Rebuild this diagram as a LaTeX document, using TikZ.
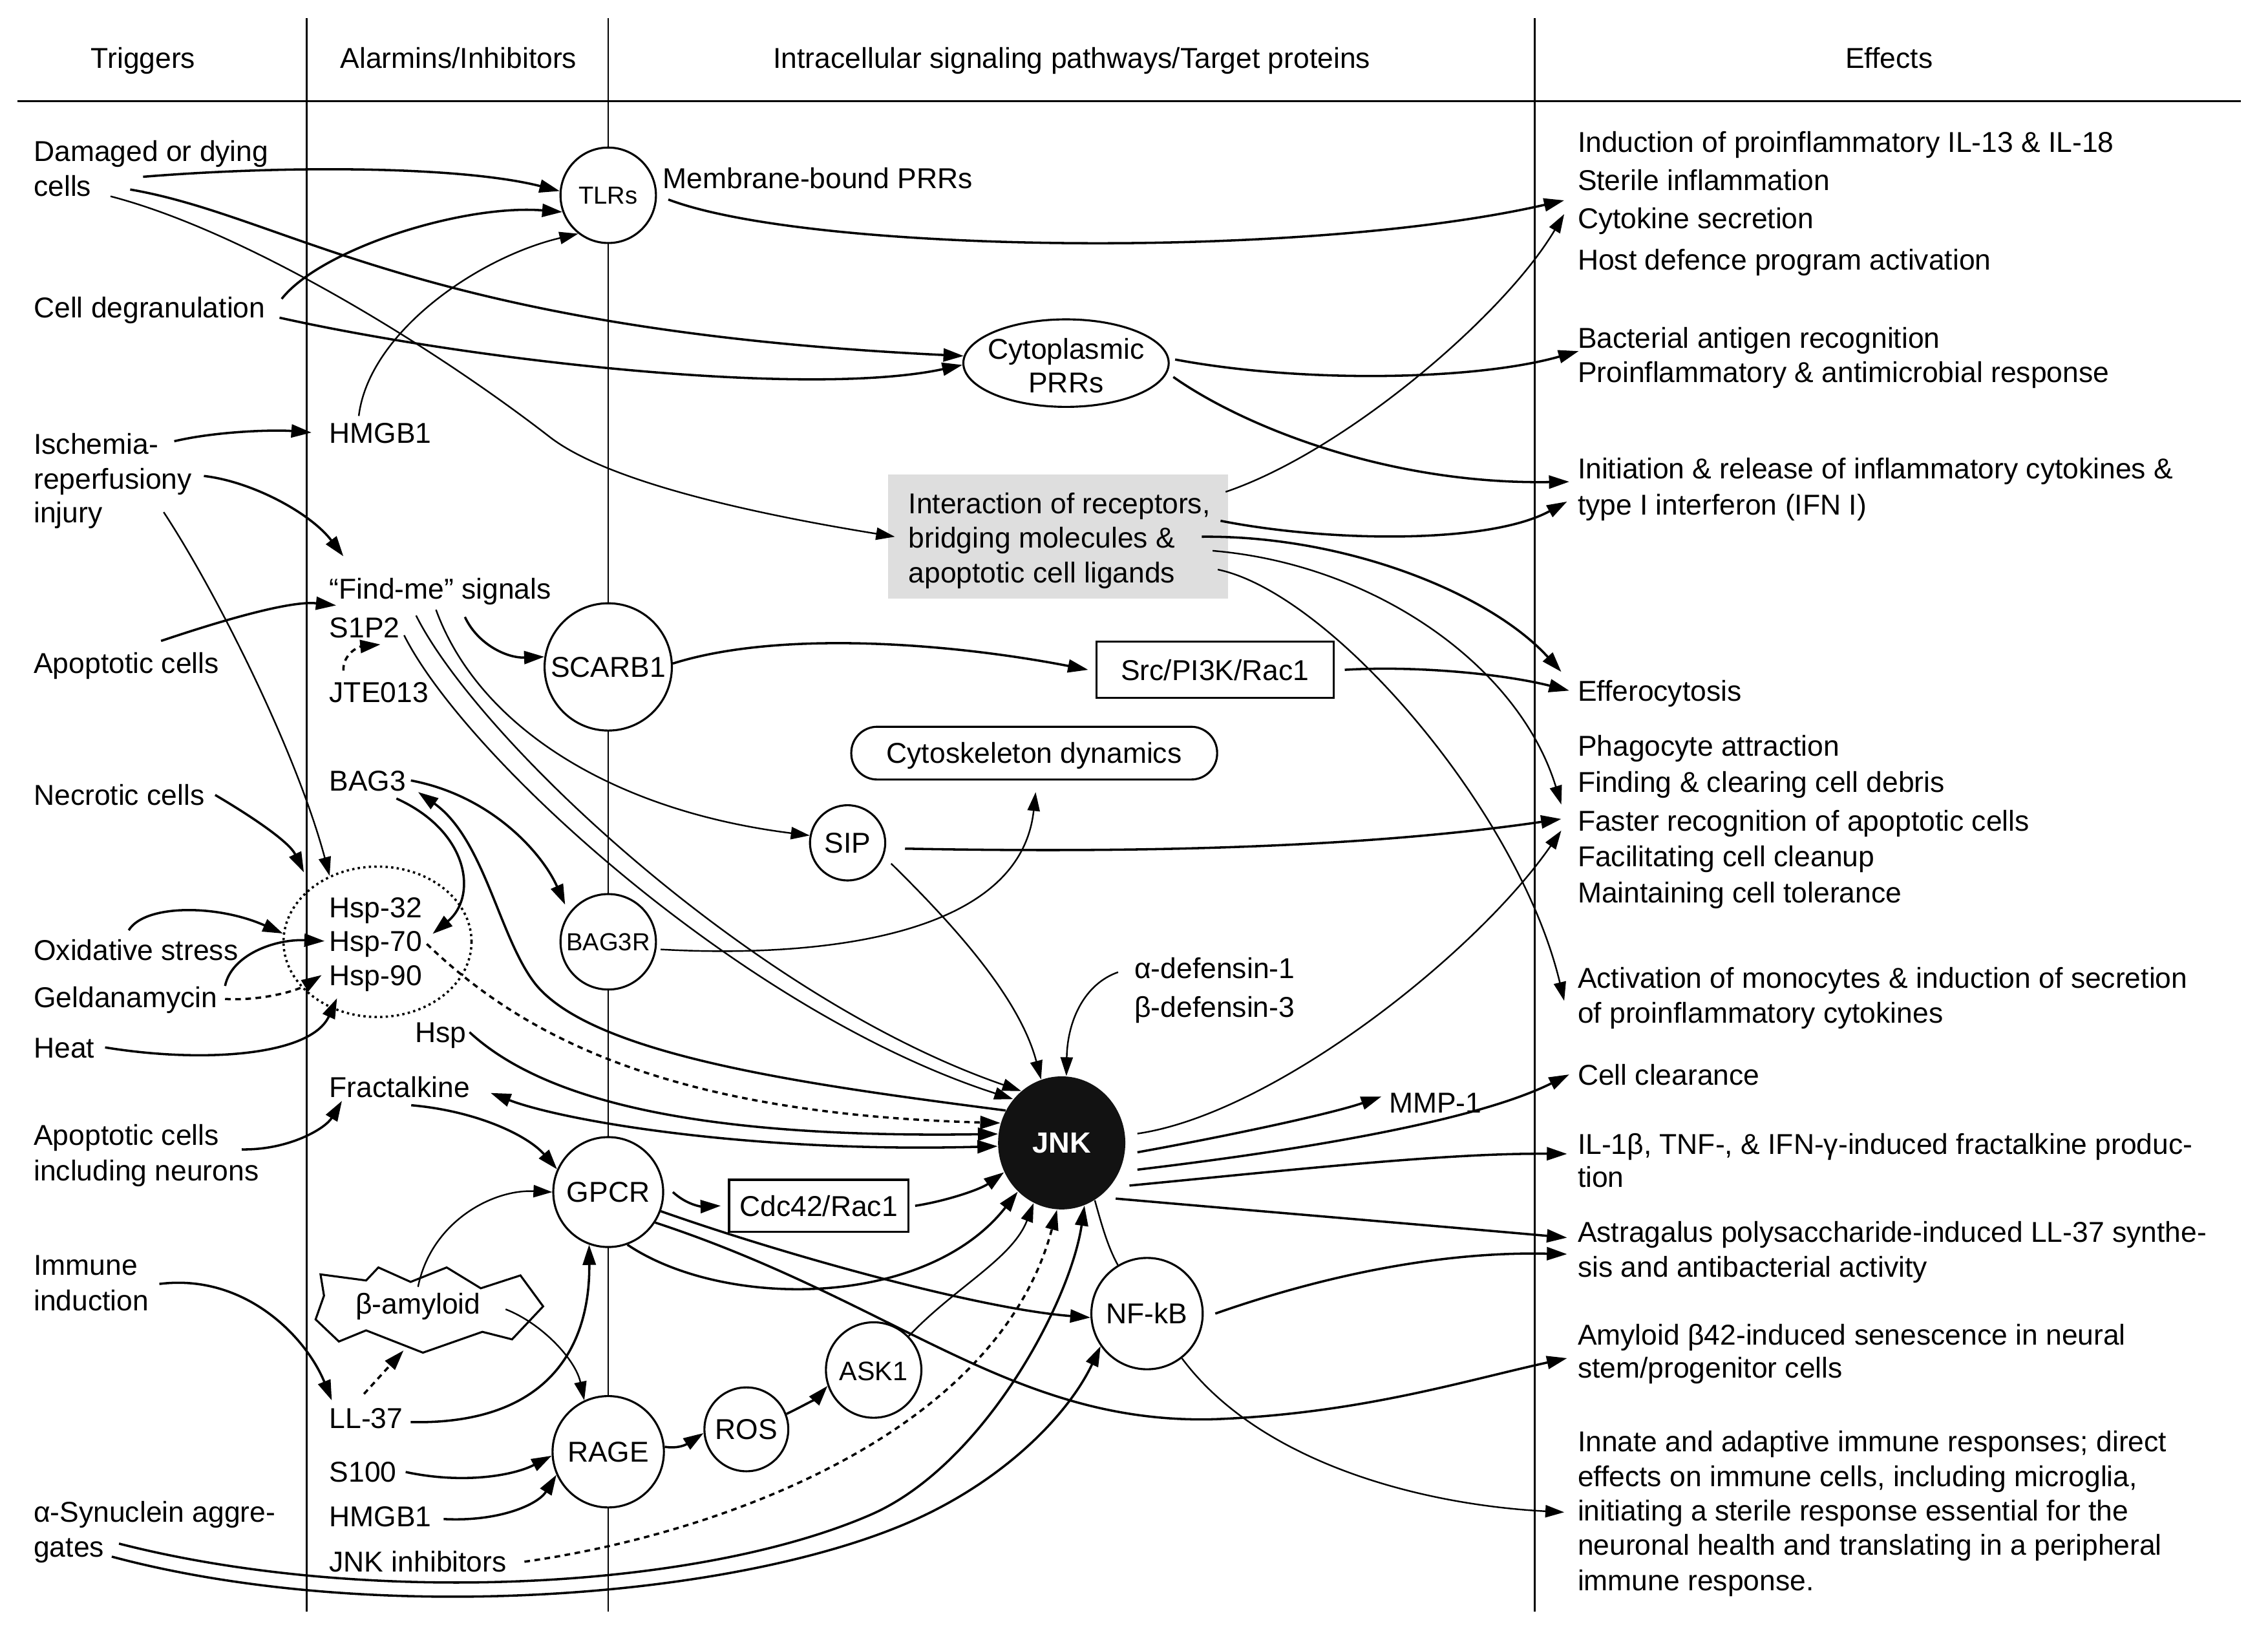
\documentclass[tikz,border=0pt]{standalone}
\usepackage{fontspec}
\setmainfont{Liberation Sans}
\usetikzlibrary{arrows.meta,calc,shapes.geometric}

\tikzset{
  lbl/.style={anchor=west,inner sep=0pt,text height=8.1pt,text depth=0pt,
    font=\fontsize{11.3}{13.6}\selectfont},
  hd/.style={lbl,anchor=center},
  ring/.style={circle,draw,line width=0.8pt,fill=white,inner sep=0pt,
    text height=8.1pt,text depth=0pt,font=\fontsize{11.3}{13.6}\selectfont},
  ringsm/.style={ring,text height=7pt,font=\fontsize{9.7}{11.6}\selectfont},
  pbox/.style={rectangle,draw,line width=0.8pt,fill=white,inner sep=0pt,
    text height=8.1pt,text depth=0pt,font=\fontsize{11.3}{13.6}\selectfont},
  arr/.style={-{Triangle[length=2.8mm,width=1.8mm]},line width=0.9pt},
  arrlt/.style={-{Triangle[length=2.6mm,width=1.7mm]},line width=0.62pt},
  arrboth/.style={{Triangle[length=2.8mm,width=1.8mm]}-{Triangle[length=2.8mm,width=1.8mm]},line width=0.9pt},
  dsh/.style={dash pattern=on 2.2pt off 1.8pt},
  lane/.style={line width=0.6pt}
}

\begin{document}
\begin{tikzpicture}[x=0.02cm,y=-0.02cm]
		%%%%% START %%%%%
		\useasboundingbox (0,0) rectangle (1568,1127.4);
		
		% columns and headings
		\draw[line width=0.7pt] (12,70) -- (1549,70);
		\draw[lane] (212,12.5) -- (212,1114);
		\draw[lane] (420.5,12.5) -- (420.5,1114);
		\draw[lane] (1061,12.5) -- (1061,1114);
		
		\node[hd] (hTrig) at (99,40) {Triggers};
		\node[hd] (hAlar) at (317,40) {Alarmins/Inhibitors};
		\node[hd] (hPath) at (741,40) {Intracellular signaling pathways/Target proteins};
		\node[hd] (hEff) at (1306,40) {Effects};
		
		% triggers
		\node[lbl] (dmg1) at (23,104.6) {Damaged or dying};
		\node[lbl] (dmg2) at (23,128.7) {cells};
		\node[lbl] (degr) at (23,212.6) {Cell degranulation};
		\node[lbl] (isch1) at (23,307) {Ischemia-};
		\node[lbl] (isch2) at (23,331) {reperfusiony};
		\node[lbl] (isch3) at (23,354) {injury};
		\node[lbl] (apop) at (23,458.5) {Apoptotic cells};
		\node[lbl] (necr) at (23,549.5) {Necrotic cells};
		\node[lbl] (oxid) at (23,656.5) {Oxidative stress};
		\node[lbl] (geld) at (23,689.5) {Geldanamycin};
		\node[lbl] (heat) at (23,724) {Heat};
		\node[lbl] (apn1) at (23,784.5) {Apoptotic cells};
		\node[lbl] (apn2) at (23,809) {including neurons};
		\node[lbl] (imm1) at (23,874.5) {Immune};
		\node[lbl] (imm2) at (23,899) {induction};
		\node[lbl] (syn1) at (23,1045) {α-Synuclein aggre-};
		\node[lbl] (syn2) at (23,1069) {gates};
		
		% alarmins / inhibitors
		\node[lbl] (hmgA) at (227.4,299) {HMGB1};
		\node[lbl] (find) at (227.4,407) {“Find-me” signals};
		\node[lbl] (s1p2) at (227.4,433.5) {S1P2};
		\node[lbl] (jte) at (227.4,478.5) {JTE013};
		\node[lbl] (bag) at (227.4,539.5) {BAG3};
		\node[ellipse,draw,line width=0.9pt,dash pattern=on 0.9pt off 1.3pt,
		  minimum width=2.6cm,minimum height=2.08cm,inner sep=0pt] (hspring) at (261,651) {};
		\node[lbl] (hsp32) at (227.4,627) {Hsp-32};
		\node[lbl] (hsp70) at (227.4,650.5) {Hsp-70};
		\node[lbl] (hsp90) at (227.4,674) {Hsp-90};
		\node[lbl] (hsp) at (286.6,713.5) {Hsp};
		\node[lbl] (fkn) at (227.4,751.5) {Fractalkine};
		\draw[line width=0.8pt] (221.6,880.9) -- (253.1,885.1) -- (261.6,876.1) -- (283.9,886.1)
		  -- (308.8,876.1) -- (332.4,890.5) -- (359.8,881.6) -- (375.5,903) -- (354,925.8)
		  -- (333.5,920.6) -- (292.4,935) -- (253.1,919.6) -- (234.3,927.3) -- (218.2,912)
		  -- (224,895.6) -- cycle;
		\node[hd] (amy) at (289,901) {β-amyloid};
		\node[lbl] (ll) at (227.4,980) {LL-37};
		\node[lbl] (s100) at (227.4,1017.5) {S100};
		\node[lbl] (hmgB) at (227.4,1048) {HMGB1};
		\node[lbl] (jinh) at (227.4,1079.5) {JNK inhibitors};
		
		% pathways / target proteins
		\node[ringsm,minimum size=1.32cm] (tlr) at (420.5,135) {TLRs};
		\node[lbl] (memb) at (458,123) {Membrane-bound PRRs};
		\node[ellipse,draw,line width=0.8pt,fill=white,minimum width=2.84cm,
		  minimum height=1.21cm,inner sep=0pt] (cyto) at (737,251) {};
		\node[hd] (cytoA) at (737,241) {Cytoplasmic};
		\node[hd] (cytoB) at (737,264.5) {PRRs};
		\node[rectangle,fill=black!13,minimum width=4.7cm,minimum height=1.72cm,
		  inner sep=0pt] (inter) at (731.5,371) {};
		\node[lbl] (intA) at (627.8,347.7) {Interaction of receptors,};
		\node[lbl] (intB) at (627.8,371.8) {bridging molecules \&};
		\node[lbl] (intC) at (627.8,395.9) {apoptotic cell ligands};
		\node[ring,minimum size=1.76cm] (scarb) at (420.5,461) {SCARB1};
		\node[pbox,minimum width=3.28cm,minimum height=0.78cm] (src) at (840,463) {Src/PI3K/Rac1};
		\node[pbox,rounded corners=0.36cm,minimum width=5.06cm,minimum height=0.73cm] (skel) at (715,520.6) {Cytoskeleton dynamics};
		\node[ring,minimum size=1.04cm] (sip) at (586,582.6) {SIP};
		\node[ringsm,minimum size=1.32cm] (bagr) at (420.5,651) {BAG3R};
		\node[lbl] (alpha) at (784,669) {α-defensin-1};
		\node[lbl] (beta) at (784,696) {β-defensin-3};
		\node[ellipse,fill=black!93,minimum width=1.76cm,minimum height=1.84cm,inner sep=0pt,
		  text=white,font=\fontsize{11.5}{13.8}\selectfont\bfseries] (jnk) at (734,790) {JNK};
		\node[lbl] (mmp) at (960,762) {MMP-1};
		\node[ring,minimum size=1.52cm] (gpcr) at (420.5,824) {GPCR};
		\node[pbox,minimum width=2.48cm,minimum height=0.72cm] (cdc) at (566,833.5) {Cdc42/Rac1};
		\node[ring,minimum size=1.54cm] (nfkb) at (793,908) {NF-kB};
		\node[ring,minimum size=1.32cm,font=\fontsize{10.5}{12.6}\selectfont] (ask) at (604,947) {ASK1};
		\node[ring,minimum size=1.16cm] (ros) at (516,988) {ROS};
		\node[ring,minimum size=1.54cm] (rage) at (420.5,1003.5) {RAGE};
		
		% effects
		\node[lbl] (fx01) at (1090.4,98.2) {Induction of proinflammatory IL-13 \& IL-18};
		\node[lbl] (fx02) at (1090.4,124.5) {Sterile inflammation};
		\node[lbl] (fx03) at (1090.4,151) {Cytokine secretion};
		\node[lbl] (fx04) at (1090.4,179.3) {Host defence program activation};
		\node[lbl] (fx05) at (1090.4,233.7) {Bacterial antigen recognition};
		\node[lbl] (fx06) at (1090.4,257.4) {Proinflammatory \& antimicrobial response};
		\node[lbl] (fx07) at (1090.4,323.7) {Initiation \& release of inflammatory cytokines \&};
		\node[lbl] (fx08) at (1090.4,348.7) {type I interferon (IFN I)};
		\node[lbl] (fx09) at (1090.4,477.4) {Efferocytosis};
		\node[lbl] (fx10) at (1090.4,515.3) {Phagocyte attraction};
		\node[lbl] (fx11) at (1090.4,540.3) {Finding \& clearing cell debris};
		\node[lbl] (fx12) at (1090.4,567.1) {Faster recognition of apoptotic cells};
		\node[lbl] (fx13) at (1090.4,592) {Facilitating cell cleanup};
		\node[lbl] (fx14) at (1090.4,617) {Maintaining cell tolerance};
		\node[lbl] (fx15) at (1090.4,675.9) {Activation of monocytes \& induction of secretion};
		\node[lbl] (fx16) at (1090.4,699.8) {of proinflammatory cytokines};
		\node[lbl] (fx17) at (1090.4,742.7) {Cell clearance};
		\node[lbl] (fx18) at (1090.4,790.6) {IL-1β, TNF-, \& IFN-γ-induced fractalkine produc-};
		\node[lbl] (fx19) at (1090.4,813.5) {tion};
		\node[lbl] (fx20) at (1090.4,851.5) {Astragalus polysaccharide-induced LL-37 synthe-};
		\node[lbl] (fx21) at (1090.4,875.5) {sis and antibacterial activity};
		\node[lbl] (fx22) at (1090.4,922.5) {Amyloid β42-induced senescence in neural};
		\node[lbl] (fx23) at (1090.4,945.5) {stem/progenitor cells};
		\node[lbl] (fx24) at (1090.4,996.3) {Innate and adaptive immune responses; direct};
		\node[lbl] (fx25) at (1090.4,1020.3) {effects on immune cells, including microglia,};
		\node[lbl] (fx26) at (1090.4,1044.3) {initiating a sterile response essential for the};
		\node[lbl] (fx27) at (1090.4,1067.9) {neuronal health and translating in a peripheral};
		\node[lbl] (fx28) at (1090.4,1092.2) {immune response.};
		
		% arrows from triggers
		\draw[arr] ($(dmg2.east)+(35.5,-6.5)$) .. controls (200,114) and (320,115) .. (tlr.175);
		\draw[arr] ($(dmg2.east)+(26.6,2.3)$) .. controls (200,150) and (290,228) .. (cyto.176);
		\draw[arrlt] ($(dmg2.east)+(13,7)$) .. controls (170,160) and (300,240) .. (380,302)
		  .. controls (420,333) and (520,355) .. ($(inter.west)+(5,0)$);
		\draw[arr] ($(degr.east)+(11,-6)$) .. controls (222,172) and (320,141) .. (tlr.200);
		\draw[arr] ($(degr.east)+(9.5,7)$) .. controls (330,250) and (560,275) .. (cyto.181);
		\draw[arr] ($(isch1.east)+(10.7,-2)$) .. controls (150,298) and (190,297) .. ($(hmgA.west)+(-12,0)$);
		\draw[arr] ($(isch2.east)+(8,-2)$) .. controls (175,333) and (215,355) .. ($(find.north west)+(10,-15)$);
		\draw[arrlt] ($(isch3.east)+(42,0)$) .. controls (150,410) and (205,520) .. (hspring.126);
		\draw[arr] ($(apop.north)+(24,-8)$) .. controls (150,430) and (200,415) .. ($(find.south west)+(5,4)$);
		\draw[arr] ($(necr.east)+(7,0)$) .. controls (175,565) and (200,582) .. ($(hspring.137)+(-8,-8)$);
		\draw[arr] ($(oxid.north west)+(66,-6)$) .. controls (100,625) and (150,625) .. (hspring.175);
		\draw[arr] ($(geld.east)+(5,-8)$) .. controls (160,660) and (190,649) .. ($(hsp70.west)+(-3,0)$);
		\draw[arr,dsh] ($(geld.east)+(5,1)$) .. controls (180,692) and (205,685) .. ($(hsp90.west)+(-5,0)$);
		\draw[arr] ($(heat.east)+(7,0)$) .. controls (140,735) and (215,730) .. ($(hspring.center)+(-28,39)$);
		\draw[arr] ($(apn1.east)+(15.5,10)$) .. controls (200,795) and (225,780) .. ($(fkn.south west)+(9,2)$);
		\draw[arr] ($(imm2.east)+(7,-11.5)$) .. controls (170,880) and (212,925) .. ($(ll.north west)+(2,-4.5)$);
		\draw[arr] ($(syn2.east)+(10,-2)$) .. controls (250,1110) and (480,1100) .. (602,1047)
		  .. controls (680,1013) and (740,900) .. (jnk.290);
		\draw[arr] ($(syn2.east)+(5,7)$) .. controls (260,1125) and (520,1105) .. (640,1047)
		  .. controls (700,1018) and (740,975) .. (nfkb.215);
		
		% arrows from alarmins
		\draw[arrlt] ($(hmgA.north)+(-15,-4)$) .. controls (255,230) and (330,178) .. (tlr.232);
		\draw[arr] ($(find.south)+(17,12)$) .. controls (330,445) and (350,455) .. (scarb.171);
		\draw[arrlt] ($(find.south)+(-3,7)$) .. controls (330,500) and (420,560) .. (sip.169);
		\draw[arrlt] ($(s1p2.east)+(11,-8)$) .. controls (330,510) and (520,690) .. (jnk.128);
		\draw[arrlt] ($(s1p2.east)+(2.7,5.6)$) .. controls (322,524) and (515,700) .. (jnk.138);
		\draw[arr,dsh] ($(jte.north west)+(10,-7.5)$) .. controls (237,452) and (248,447) .. ($(s1p2.south)+(11,4.5)$);
		\draw[arr] ($(bag.east)+(3,0)$) .. controls (340,550) and (375,590) .. ($(bagr.140)+(-4,-4)$);
		\draw[arr] ($(bag.south east)+(-7,5)$) .. controls (325,575) and (330,620) .. ($(hsp70.east)+(7,-5)$);
		\draw[arr] (jnk.150) .. controls (560,750) and (410,730) .. (370,680)
		  .. controls (345,648) and (335,580) .. ($(bag.east)+(8,8)$);
		\draw[arr,dsh] ($(hsp70.east)+(3,2)$) .. controls (360,715) and (460,770) .. (jnk.162);
		\draw[arr] ($(hsp.east)+(2,0)$) .. controls (375,760) and (480,787) .. (jnk.172);
		\draw[arrboth] ($(fkn.east)+(14,4)$) .. controls (390,775) and (520,797) .. (jnk.183);
		\draw[arr] ($(fkn.south)+(8,5)$) .. controls (330,768) and (365,785) .. (gpcr.156);
		\draw[arrlt] ($(amy.north)+(0,-4)$) .. controls (298,845) and (340,822) .. (gpcr.west);
		\draw[arr] ($(ll.east)+(5,3)$) .. controls (380,985) and (408,930) .. (gpcr.250);
		\draw[arr,dsh] ($(ll.north)+(-1.5,-9)$) -- ($(amy.south)+(-10,25)$);
		\draw[arrlt] ($(amy.east)+(17,4)$) .. controls (375,915) and (398,940) .. (rage.115);
		\draw[arr] ($(s100.east)+(6,0)$) .. controls (320,1026) and (355,1020) .. (rage.184);
		\draw[arr] ($(hmgB.east)+(8,2)$) .. controls (345,1052) and (372,1040) .. (rage.204);
		\draw[arr,dsh] ($(jinh.east)+(12,0)$) .. controls (500,1060) and (690,990) .. (jnk.266);
		
		% arrows between pathway nodes
		\draw[arr] (rage.5) .. controls (472,1002) and (478,996) .. (ros.185);
		\draw[arr] (ros.21) .. controls (555,972) and (565,966) .. (ask.199);
		\draw[arrlt] (ask.44) .. controls (660,890) and (700,870) .. (jnk.245);
		\draw[arr] (gpcr.-70) .. controls (500,905) and (640,905) .. (jnk.228);
		\draw[arr] (gpcr.-20) .. controls (550,870) and (680,905) .. (nfkb.184);
		\draw[arr] ($(gpcr.east)+(6,0)$) .. controls (475,833) and (485,834) .. ($(cdc.west)+(-5,0)$);
		\draw[arr] ($(cdc.east)+(4,0)$) .. controls (655,830) and (678,822) .. (jnk.207);
		\draw[line width=0.62pt] (jnk.300) .. controls (762,848) and (766,862) .. (nfkb.121);
		\draw[arrlt] ($(sip.-30)+(7,1)$) .. controls (660,640) and (705,690) .. (jnk.108);
		\draw[arrlt] ($(alpha.west)+(-11,3)$) .. controls (750,680) and (738,705) .. (jnk.86);
		\draw[arrlt] ($(bagr.-9)+(3,0)$) .. controls (560,662) and (705,650) .. ($(skel.south)+(1,8)$);
		\draw[arr] (scarb.3) .. controls (540,435) and (660,445) .. ($(src.west)+(-5,0)$);
		\draw[arr] ($(jnk.east)+(8,6.5)$) .. controls (850,785) and (920,770) .. ($(mmp.west)+(-5,-4)$);
		
		% arrows to effects
		\draw[arr] ($(tlr.-5)+(8,0)$) .. controls (560,175) and (900,180) .. ($(fx03.west)+(-9,-12.5)$);
		\draw[arr] ($(cyto.2)+(4,0)$) .. controls (900,265) and (1020,263) .. ($(fx05.west)+(1,9)$);
		\draw[arr] ($(cyto.-8)+(6,0)$) .. controls (860,295) and (960,335) .. ($(fx07.west)+(-5.5,9.3)$);
		\draw[arrlt] ($(inter.east)+(-2,-31)$) .. controls (930,312) and (1040,218) .. ($(fx03.west)+(-9,-3)$);
		\draw[arr] ($(inter.east)+(-5.5,-11)$) .. controls (920,375) and (1030,376) .. ($(fx08.west)+(-7,-2)$);
		\draw[arr] ($(inter.east)+(-18.5,0)$) .. controls (930,370) and (1030,410) .. ($(fx09.west)+(-11,-13)$);
		\draw[arrlt] ($(inter.east)+(-11,9.7)$) .. controls (950,390) and (1050,460) .. ($(fx12.west)+(-11,-11)$);
		\draw[arrlt] ($(inter.east)+(-7.4,22.7)$) .. controls (920,410) and (1050,560) .. ($(fx16.west)+(-9,-8)$);
		\draw[arr] ($(src.east)+(7,0)$) .. controls (980,460) and (1040,466) .. ($(fx09.west)+(-5.5,0)$);
		\draw[arr] ($(sip.east)+(13,4)$) .. controls (800,590) and (950,585) .. ($(fx12.west)+(-11,-1)$);
		\draw[arrlt] ($(jnk.east)+(8,-6.4)$) .. controls (880,770) and (1020,660) .. ($(fx12.west)+(-11,7)$);
		\draw[arr] ($(jnk.east)+(8,18.5)$) .. controls (900,795) and (1020,775) .. ($(fx17.west)+(-5.5,0)$);
		\draw[arr] ($(jnk.east)+(2.5,29.5)$) .. controls (900,808) and (1000,797) .. ($(fx18.west)+(-7,7)$);
		\draw[arr] ($(jnk.east)+(-7,38.5)$) .. controls (880,838) and (1000,848) .. ($(fx20.west)+(-7,4)$);
		\draw[arr] ($(nfkb.east)+(8,0)$) .. controls (920,880) and (1000,865) .. ($(fx21.west)+(-7,-8.6)$);
		\draw[arr] (gpcr.-33) .. controls (620,900) and (700,985) .. (840,981)
		  .. controls (940,977) and (1010,955) .. ($(fx23.west)+(-7,-6.7)$);
		\draw[arrlt] (nfkb.-52) .. controls (870,1010) and (980,1040) .. ($(fx26.west)+(-9,1)$);
		
		%%%%% END %%%%%
\end{tikzpicture}
\end{document}
